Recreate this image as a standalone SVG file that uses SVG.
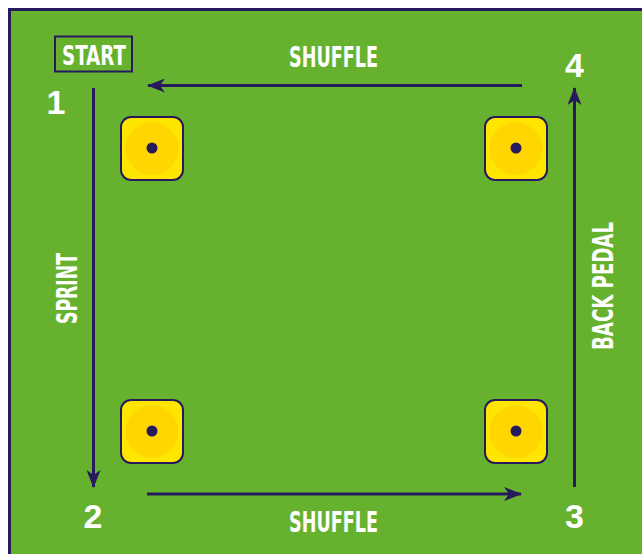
<svg xmlns="http://www.w3.org/2000/svg" width="642" height="554" viewBox="0 0 642 554">
<style>
.lbl{font-family:"Liberation Sans Narrow","DejaVu Sans Condensed","Liberation Sans",sans-serif;font-weight:bold;fill:#ffffff;}
.num{font-family:"Liberation Sans","DejaVu Sans",sans-serif;font-weight:bold;fill:#ffffff;font-size:34px;text-anchor:middle;}
.conn{stroke:#271a5c;stroke-width:3;fill:none;}
.cone rect{fill:#ffe600;stroke:#271a5c;stroke-width:2;}
.cone .in{fill:#ffd600;}
.cone .dot{fill:#271a5c;}
</style>
<defs>
<marker id="ah" viewBox="0 0 18 14" refX="17" refY="7" markerWidth="18" markerHeight="14" markerUnits="userSpaceOnUse" orient="auto">
<path d="M0,0 L18,7 L0,14 L5,7 Z" fill="#271a5c"/>
</marker>
</defs>
<rect x="0" y="0" width="642" height="554" fill="#ffffff"/>
<rect x="8" y="8" width="634" height="546" fill="#271a5c"/>
<rect x="11" y="11" width="631" height="543" fill="#66b22f"/>

<g id="start">
<rect x="55" y="36.5" width="77" height="35" fill="none" stroke="#271a5c" stroke-width="2"/>
<text class="lbl" x="62" y="65" font-size="27" textLength="64" lengthAdjust="spacingAndGlyphs">START</text>
</g>

<g id="n1"><text class="num" x="56" y="114">1</text></g>
<g id="n2"><text class="num" x="93" y="528">2</text></g>
<g id="n3"><text class="num" x="574.5" y="528">3</text></g>
<g id="n4"><text class="num" x="574.5" y="77">4</text></g>

<g id="cone1" class="cone"><rect x="121" y="117" width="62" height="63" rx="10"/><circle class="in" cx="152" cy="148.5" r="26.5"/><circle class="dot" cx="152" cy="148" r="5.5"/></g>
<g id="cone2" class="cone"><rect x="485" y="117" width="62" height="63" rx="10"/><circle class="in" cx="516" cy="148.5" r="26.5"/><circle class="dot" cx="516" cy="148" r="5.5"/></g>
<g id="cone3" class="cone"><rect x="121" y="400" width="62" height="63" rx="10"/><circle class="in" cx="152" cy="431.5" r="26.5"/><circle class="dot" cx="152" cy="431" r="5.5"/></g>
<g id="cone4" class="cone"><rect x="485" y="400" width="62" height="63" rx="10"/><circle class="in" cx="516" cy="431.5" r="26.5"/><circle class="dot" cx="516" cy="431" r="5.5"/></g>

<g id="connectors">
<line class="conn" x1="93.5" y1="88" x2="93.5" y2="487" marker-end="url(#ah)"/>
<line class="conn" x1="147" y1="494" x2="521" y2="494" marker-end="url(#ah)"/>
<line class="conn" x1="574.5" y1="487" x2="574.5" y2="88" marker-end="url(#ah)"/>
<line class="conn" x1="522" y1="85.5" x2="148" y2="85.5" marker-end="url(#ah)"/>
</g>

<g id="labels">
<text class="lbl" x="289" y="67" font-size="29" textLength="89" lengthAdjust="spacingAndGlyphs">SHUFFLE</text>
<text class="lbl" x="289" y="532" font-size="29" textLength="89" lengthAdjust="spacingAndGlyphs">SHUFFLE</text>
<text class="lbl" transform="translate(77,324) rotate(-90)" font-size="29" textLength="71" lengthAdjust="spacingAndGlyphs">SPRINT</text>
<text class="lbl" transform="translate(613,350) rotate(-90)" font-size="29" textLength="128" lengthAdjust="spacingAndGlyphs">BACK PEDAL</text>
</g>
</svg>
